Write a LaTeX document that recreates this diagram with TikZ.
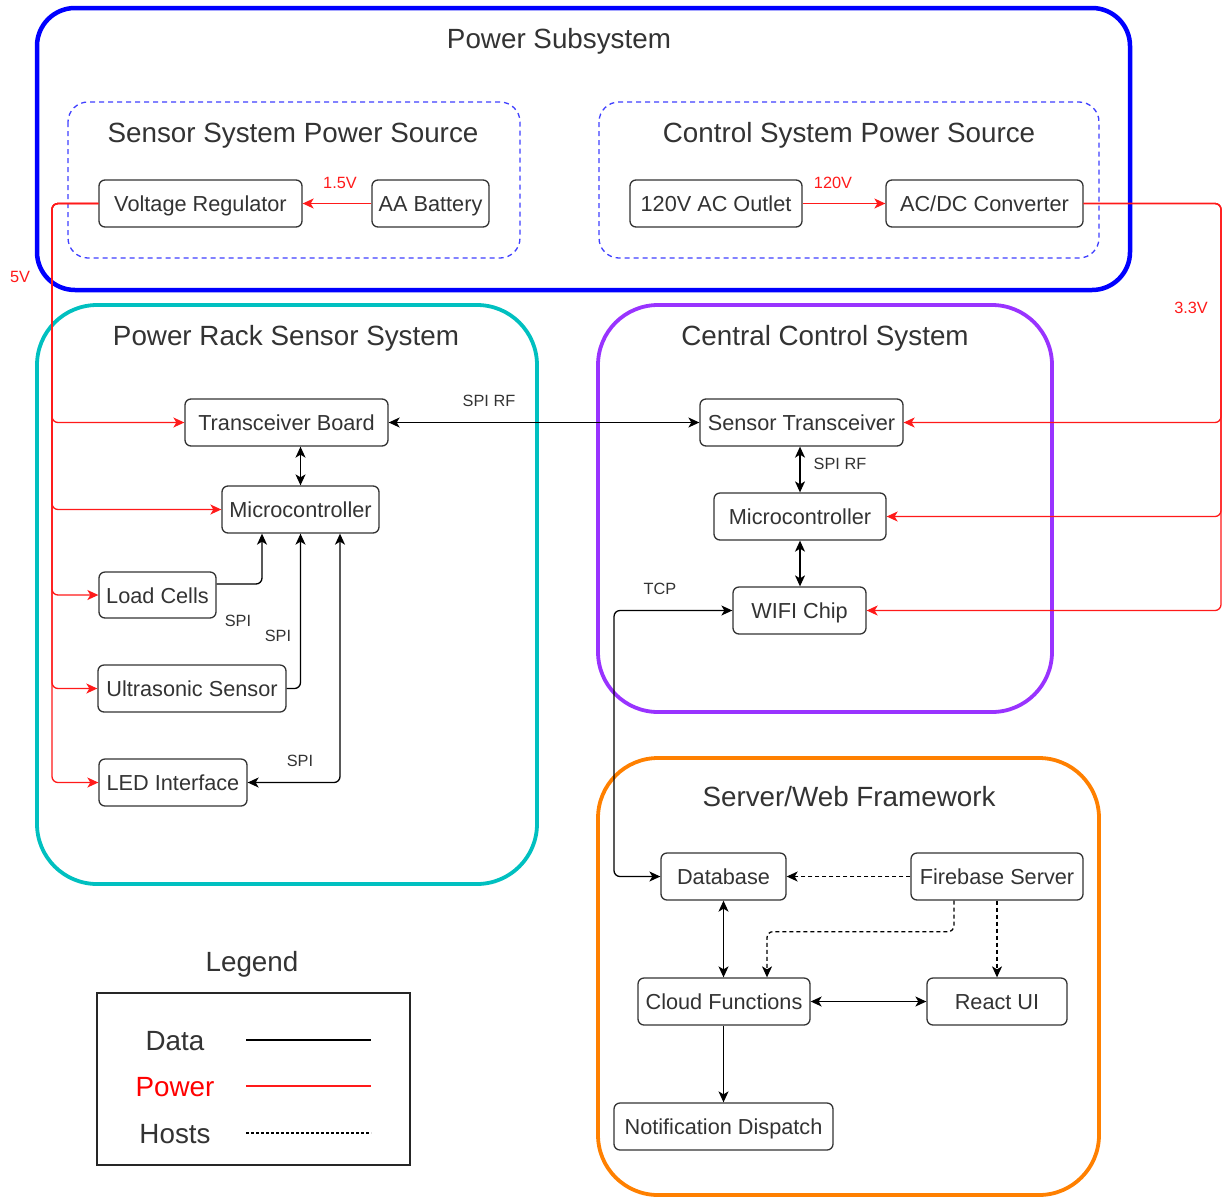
\documentclass[tikz,border=0pt]{standalone}
\usepackage{fontspec}
\setmainfont{Liberation Sans}
\usetikzlibrary{arrows.meta,calc}
\definecolor{txt}{HTML}{333333}
\definecolor{teal1}{HTML}{00C0C0}
\definecolor{purp}{HTML}{9933FF}
\definecolor{oran}{HTML}{FF8000}
\definecolor{dblue}{HTML}{4040FF}
\definecolor{pwr}{HTML}{FF1A1A}
\begin{document}
\begin{tikzpicture}[x=1pt,y=-1pt,
  >={Stealth[length=11pt,width=10pt,inset=3pt]},
  blk/.style={draw=txt, text=txt, rounded corners=6pt, line width=1.3pt, inner sep=0pt,
    minimum height=47pt, text height=16pt, text depth=0pt, font=\fontsize{21.7}{26}\selectfont},
  ttl/.style={text=txt, inner sep=0pt, text height=20pt, text depth=0pt, font=\fontsize{27.8}{32}\selectfont},
  lbl/.style={text=txt, inner sep=0pt, text height=11.7pt, text depth=0pt, font=\fontsize{16.3}{19}\selectfont},
  plbl/.style={lbl, text=pwr},
  data/.style={draw=black, line width=1.3pt, rounded corners=6pt},
  pw/.style={draw=pwr, line width=1.3pt, rounded corners=6pt},
  host/.style={draw=black, line width=1.3pt, dash pattern=on 4pt off 3pt, rounded corners=6pt},
]
\useasboundingbox (0,0) rectangle (1222,1197);
\fill[white] (0,0) rectangle (1222,1197);

% containers
\draw[blue, line width=4.5pt, rounded corners=38pt] (37,8) rectangle (1130,290);
\draw[dblue, line width=1.3pt, dash pattern=on 5pt off 4pt, rounded corners=20pt] (68,102) rectangle (520,258);
\draw[dblue, line width=1.3pt, dash pattern=on 5pt off 4pt, rounded corners=20pt] (599,102) rectangle (1099,258);
\draw[teal1, line width=3.8pt, rounded corners=60pt] (37,305) rectangle (537,884);
\draw[purp, line width=3.8pt, rounded corners=60pt] (598,305) rectangle (1052,712);
\draw[oran, line width=3.8pt, rounded corners=60pt] (598,758) rectangle (1099,1195);
\draw[black!85, line width=1.3pt] (97,993) rectangle (410,1165);

% titles
\node[ttl] (t1) at (559,38) {Power Subsystem};
\node[ttl] (t2) at (293,132) {Sensor System Power Source};
\node[ttl] (t3) at (849,132) {Control System Power Source};
\node[ttl] (t4) at (286,335) {Power Rack Sensor System};
\node[ttl] (t5) at (825,335) {Central Control System};
\node[ttl] (t6) at (849,796) {Server/Web Framework};
\node[ttl] (t7) at (252,961) {Legend};

% nodes
\node[blk, minimum width=203pt] (vr) at (200.5,203.5) {Voltage Regulator};
\node[blk, minimum width=117pt] (aa) at (430.5,203.5) {AA Battery};
\node[blk, minimum width=172pt] (ac) at (716,203.5) {120V AC Outlet};
\node[blk, minimum width=197pt] (dc) at (984.5,203.5) {AC/DC Converter};
\node[blk, minimum width=203pt] (tb) at (286.5,422.5) {Transceiver Board};
\node[blk, minimum width=157pt] (mcl) at (300.5,509.5) {Microcontroller};
\node[blk, minimum width=117pt, minimum height=46pt] (lc) at (157.5,595) {Load Cells};
\node[blk, minimum width=188pt] (us) at (192,688.5) {Ultrasonic Sensor};
\node[blk, minimum width=148pt] (led) at (173,782.5) {LED Interface};
\node[blk, minimum width=203pt] (st) at (801.5,422.5) {Sensor Transceiver};
\node[blk, minimum width=172pt] (mcr) at (800,516.5) {Microcontroller};
\node[blk, minimum width=133pt] (wifi) at (799.5,610.5) {WIFI Chip};
\node[blk, minimum width=125pt] (db) at (723.5,876.5) {Database};
\node[blk, minimum width=172pt] (fb) at (997,876.5) {Firebase Server};
\node[blk, minimum width=172pt] (cf) at (724,1001.5) {Cloud Functions};
\node[blk, minimum width=140pt] (ui) at (997,1001.5) {React UI};
\node[blk, minimum width=219pt] (nd) at (723.5,1126.5) {Notification Dispatch};

% power connectors
\draw[pw,->] (aa.west) -- (vr.east);
\draw[pw,->] (ac.east) -- (dc.west);
\coordinate (b5) at (52,203.5);
\draw[pw,->] (vr.west) -- (b5) |- (tb.west);
\draw[pw,->] (vr.west) -- (b5) |- (mcl.west);
\draw[pw,->] (vr.west) -- (b5) |- (lc.west);
\draw[pw,->] (vr.west) -- (b5) |- (us.west);
\draw[pw,->] (vr.west) -- (b5) |- (led.west);
\coordinate (b33) at (1221,203.5);
\draw[pw,->] (dc.east) -- (b33) |- (st.east);
\draw[pw,->] (dc.east) -- (b33) |- (mcr.east);
\draw[pw,->] (dc.east) -- (b33) |- (wifi.east);

% data connectors
\draw[data,<->] (tb.east) -- (st.west);
\draw[data,<->] (tb.south -| mcl.north) -- (mcl.north);
\draw[data,->] ([yshift=11pt]lc.east) -| ([xshift=-38.5pt]mcl.south);
\draw[data,->] (us.east) -| (mcl.south);
\draw[data,<->] ([xshift=39.5pt]mcl.south) |- (led.east);
\draw[data,<->] (st.south -| mcr.north) -- (mcr.north);
\draw[data,<->] (mcr.south) -- (wifi.north -| mcr.south);
\coordinate (tcpc) at (614,610.5);
\draw[data,<->] (wifi.west) -- (tcpc) |- (db.west);
\draw[data,<->] (db.south) -- (cf.north -| db.south);
\draw[data,<->] (cf.east) -- (ui.west);
\draw[data,->] (cf.south -| nd.north) -- (nd.north);

% host connectors
\draw[host,->] (fb.west) -- (db.east);
\draw[host,->] ([xshift=-43pt]fb.south) -- ++(0,31) -| ([xshift=43pt]cf.north);
\draw[host,->] (fb.south) -- (ui.north);

% labels
\node[plbl] (l15) at (340,183) {1.5V};
\node[plbl] (l120) at (833,183) {120V};
\node[plbl] (l5) at (20,277) {5V};
\node[plbl] (l33) at (1191,308) {3.3V};
\node[lbl] (s1) at (489,401) {SPI RF};
\node[lbl] (s2) at (840,464) {SPI RF};
\node[lbl] (s3) at (238,621) {SPI};
\node[lbl] (s4) at (278,636) {SPI};
\node[lbl] (s5) at (300,761) {SPI};
\node[lbl] (s6) at (660,589) {TCP};

% legend
\node[ttl] (ld) at (175,1040) {Data};
\node[ttl, text=red] (lp) at (175,1086) {Power};
\node[ttl] (lh) at (175,1133) {Hosts};
\coordinate (ld1) at (246,1040); \coordinate (ld2) at (371,1040);
\coordinate (lp1) at (246,1086); \coordinate (lp2) at (371,1086);
\coordinate (lh1) at (246,1133); \coordinate (lh2) at (371,1133);
\draw[black, line width=1.3pt] (ld1) -- (ld2);
\draw[pwr, line width=1.3pt] (lp1) -- (lp2);
\draw[black, line width=1.3pt, dash pattern=on 3pt off 2pt] (lh1) -- (lh2);
\end{tikzpicture}
\end{document}
